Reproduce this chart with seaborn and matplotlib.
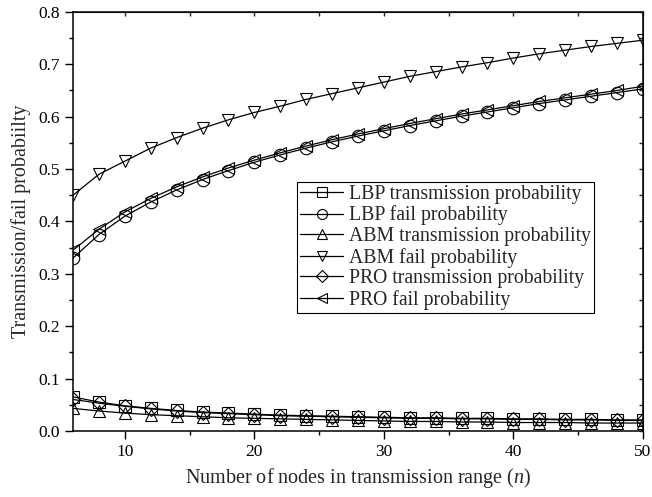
import matplotlib
matplotlib.use("Agg")
import matplotlib.pyplot as plt
import seaborn as sns
import pandas as pd
from matplotlib.ticker import MultipleLocator, NullFormatter

n_nodes = list(range(6, 51, 2))

lbp_trans = [0.065, 0.055, 0.048, 0.043, 0.039, 0.036, 0.034, 0.032, 0.030, 0.029, 0.028, 0.027,
             0.026, 0.025, 0.025, 0.024, 0.024, 0.023, 0.023, 0.022, 0.022, 0.021, 0.021]
lbp_fail = [0.330, 0.375, 0.410, 0.437, 0.460, 0.480, 0.497, 0.513, 0.527, 0.540, 0.552, 0.563,
            0.573, 0.583, 0.592, 0.601, 0.609, 0.617, 0.625, 0.632, 0.639, 0.646, 0.653]
abm_trans = [0.043, 0.038, 0.034, 0.031, 0.029, 0.027, 0.025, 0.024, 0.023, 0.022, 0.021, 0.020,
             0.019, 0.018, 0.018, 0.017, 0.017, 0.016, 0.016, 0.016, 0.015, 0.015, 0.015]
abm_fail = [0.450, 0.490, 0.515, 0.540, 0.560, 0.578, 0.594, 0.608, 0.620, 0.633, 0.644, 0.655,
            0.666, 0.677, 0.686, 0.695, 0.703, 0.712, 0.720, 0.727, 0.734, 0.740, 0.746]
pro_trans = [0.060, 0.053, 0.047, 0.042, 0.038, 0.035, 0.033, 0.031, 0.029, 0.028, 0.027, 0.026,
             0.025, 0.024, 0.024, 0.023, 0.023, 0.022, 0.022, 0.021, 0.021, 0.020, 0.020]
pro_fail = [0.345, 0.385, 0.418, 0.444, 0.466, 0.485, 0.502, 0.517, 0.531, 0.544, 0.556, 0.567,
            0.577, 0.587, 0.596, 0.605, 0.613, 0.621, 0.629, 0.636, 0.643, 0.650, 0.658]

series_names = ["LBP transmission probability", "LBP fail probability",
                "ABM transmission probability", "ABM fail probability",
                "PRO transmission probability", "PRO fail probability"]
series_values = [lbp_trans, lbp_fail, abm_trans, abm_fail, pro_trans, pro_fail]
markers = ["s", "o", "^", "v", "D", "<"]

rows = []
for name, vals in zip(series_names, series_values):
    for x, y in zip(n_nodes, vals):
        rows.append({"n": x, "p": y, "series": name})
df = pd.DataFrame(rows)

sns.set_style("ticks")
plt.rcParams["font.family"] = ["Liberation Serif", "DejaVu Serif"]
plt.rcParams["mathtext.fontset"] = "custom"
plt.rcParams["mathtext.it"] = "Liberation Serif:italic"

fig, ax = plt.subplots(figsize=(6.52, 4.97), dpi=100)
fig.subplots_adjust(left=0.112, right=0.986, top=0.976, bottom=0.133)

for name, mk in zip(series_names, markers):
    sub = df[df["series"] == name]
    ms = 7.5 if mk == "D" else 9
    sns.lineplot(data=sub, x="n", y="p", ax=ax, color="black", linewidth=0.9,
                 marker=mk, markersize=ms, markerfacecolor="none",
                 markeredgecolor="black", markeredgewidth=0.8, label=name)

ax.set_xlim(6, 50)
ax.set_ylim(0, 0.8)
ax.xaxis.set_major_locator(MultipleLocator(10))
ax.xaxis.set_minor_locator(MultipleLocator(5))
ax.yaxis.set_major_locator(MultipleLocator(0.1))
ax.yaxis.set_minor_locator(MultipleLocator(0.05))
ax.tick_params(which="both", direction="out", top=False, right=False, labelsize=12.5, colors="black")
ax.tick_params(which="major", length=6, width=1.0)
ax.tick_params(which="minor", length=3, width=1.0)
for s in ax.spines.values():
    s.set_linewidth(1.1)
    s.set_color("black")

top = ax.secondary_xaxis("top")
top.xaxis.set_major_locator(MultipleLocator(10))
top.xaxis.set_minor_locator(MultipleLocator(5))
top.xaxis.set_major_formatter(NullFormatter())
top.tick_params(which="both", direction="in", length=3, width=1.0)
right = ax.secondary_yaxis("right")
right.yaxis.set_major_locator(MultipleLocator(0.1))
right.yaxis.set_minor_locator(MultipleLocator(0.05))
right.yaxis.set_major_formatter(NullFormatter())
right.tick_params(which="both", direction="in", length=3, width=1.0)

ax.set_xlabel("Number of nodes in transmission range ($n$)", fontsize=14.5, labelpad=4)
ax.set_ylabel("Transmission/fail probabiilty", fontsize=14.5, labelpad=5)

leg = ax.legend(loc="upper left", bbox_to_anchor=(0.393, 0.594), fontsize=14.2,
                frameon=True, fancybox=False, edgecolor="black", framealpha=1,
                handlelength=2.2, handletextpad=0.3, borderpad=0.15, labelspacing=0.08,
                borderaxespad=0, markerscale=0.8)
leg.get_frame().set_linewidth(0.8)

fig.savefig("out.png", dpi=100)
